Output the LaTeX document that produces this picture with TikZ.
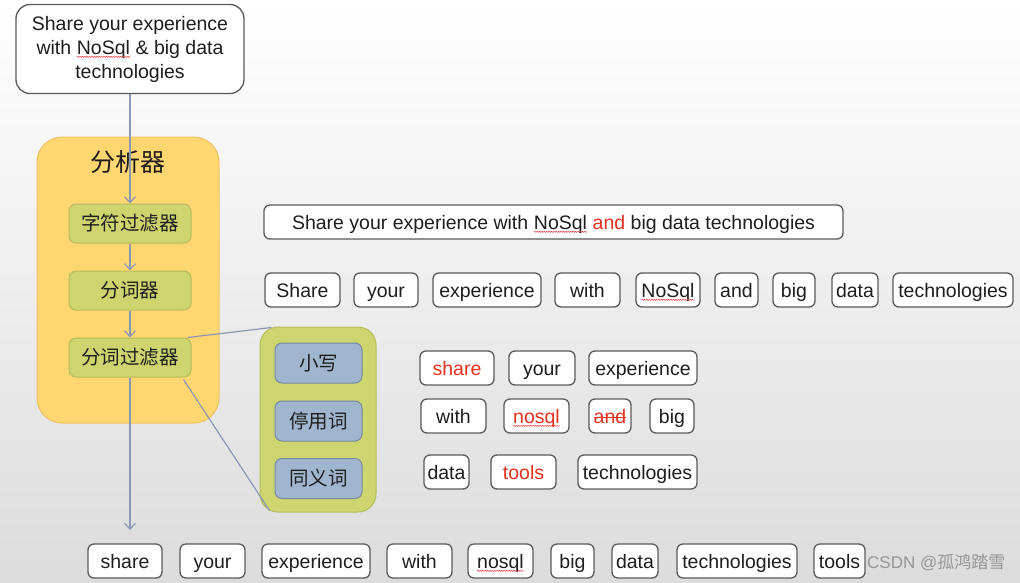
\documentclass[tikz,border=0pt]{standalone}
\usepackage{fontspec}
\setmainfont{Liberation Sans}
\newfontfamily\cjk{Noto Sans CJK SC}
\usetikzlibrary{arrows.meta,decorations.pathmorphing}
\definecolor{connc}{RGB}{138,152,182}
\definecolor{tokb}{RGB}{90,90,90}
\definecolor{txt}{RGB}{30,30,30}
\definecolor{redc}{RGB}{228,48,30}
\definecolor{spell}{RGB}{225,60,60}
\definecolor{orangef}{RGB}{255,214,112}
\definecolor{orangeb}{RGB}{236,196,98}
\definecolor{olivef}{RGB}{206,212,110}
\definecolor{oliveb}{RGB}{182,188,92}
\definecolor{bluef}{RGB}{160,182,206}
\definecolor{blueb}{RGB}{118,138,165}
\definecolor{bgbot}{RGB}{220,220,220}
\definecolor{wmc}{RGB}{150,150,150}
\newcommand\wavy[1]{\tikz[baseline=(wv.base)]{\node[inner sep=0pt,outer sep=0pt,minimum width=0pt,minimum height=0pt,draw=none,fill=none] (wv) {#1};\draw[draw=spell,line width=0.5pt,sharp corners,decorate,decoration={snake,amplitude=0.6pt,segment length=2.4pt}] ([yshift=-2.8pt]wv.base west) -- ([yshift=-2.8pt]wv.base east);}}
\newcommand\strk[1]{\tikz[baseline=(sv.base)]{\node[inner sep=0pt,outer sep=0pt,minimum width=0pt,minimum height=0pt,draw=none,fill=none] (sv) {#1};\draw[draw=redc,line width=1.2pt,sharp corners] ([yshift=5.3pt]sv.base west) -- ([yshift=5.3pt]sv.base east);}}
\begin{document}
\begin{tikzpicture}[x=1pt,y=-1pt,
  conn/.style={draw=connc,line width=1.2pt},
  arr/.style={conn,-{Straight Barb[length=6pt,width=11pt]}},
  tok/.style={draw=tokb,line width=1.3pt,fill=white,rounded corners=6pt,minimum height=34pt,inner sep=0pt,text=txt,text height=14pt,text depth=0pt,font=\fontsize{19.5}{23}\selectfont},
  redtok/.style={tok,text=redc},
  stagebox/.style={draw=oliveb,line width=1pt,fill=olivef,rounded corners=7pt,minimum width=122pt,minimum height=39pt,inner sep=0pt,text=txt,font=\cjk\fontsize{19.5}{23}\selectfont},
  filtbox/.style={draw=blueb,line width=1pt,fill=bluef,rounded corners=7pt,minimum width=87pt,minimum height=40pt,inner sep=0pt,text=txt,font=\cjk\fontsize{19.5}{23}\selectfont}
]
\shade[top color=white,bottom color=bgbot] (0,0) rectangle (1020,582);
\useasboundingbox (0,0) rectangle (1020,582);

% source sentence
\node[draw=tokb,line width=1.3pt,fill=white,text=txt,minimum width=228pt,minimum height=89pt,inner sep=0pt,rounded corners=14pt,align=center,font=\fontsize{19.5}{24}\selectfont] (src) at (130,49) {Share your experience\\with \wavy{NoSql} \& big data\\technologies};

% analyzer
\node[draw=orangeb,fill=orangef,line width=1pt,rounded corners=25pt,minimum width=182pt,minimum height=286pt,inner sep=0pt] (ana) at (128,280) {};
\node[inner sep=0pt,text=txt,font=\cjk\fontsize{25}{30}\selectfont] (anat) at (128,162) {分析器};
\node[stagebox] (s1) at (130,223.5) {字符过滤器};
\node[stagebox] (s2) at (130,290.5) {分词器};
\node[stagebox] (s3) at (130,357.5) {分词过滤器};

% token filters group
\node[draw=oliveb,fill=olivef,line width=1pt,rounded corners=18pt,minimum width=116pt,minimum height=185pt,inner sep=0pt] (grp) at (318,419.5) {};
\node[filtbox] (f1) at (318.5,363) {小写};
\node[filtbox] (f2) at (318.5,421) {停用词};
\node[filtbox] (f3) at (318.5,478.5) {同义词};

% connectors
\coordinate (out) at (130,530);
\draw[arr] (src.south) -- (s1.north);
\draw[arr] (s1.south) -- (s2.north);
\draw[arr] (s2.south) -- (s3.north);
\draw[arr] (s3.south) -- (out);
\draw[conn] ([xshift=-4pt]s3.north east) -- ([xshift=12pt,yshift=-1pt]grp.north west);
\draw[conn] ([xshift=-8pt,yshift=-2pt]s3.south east) -- ([xshift=10pt,yshift=2pt]grp.south west);

% sentence after char filter
\node[tok,minimum width=579pt] (sent) at (553.5,222) {Share your experience with \wavy{NoSql} \textcolor{redc}{and} big data technologies};

% tokenizer output
\node[tok,minimum width=75pt] (a1) at (302.5,290) {Share};
\node[tok,minimum width=64pt] (a2) at (386,290) {your};
\node[tok,minimum width=108pt] (a3) at (487,290) {experience};
\node[tok,minimum width=65pt] (a4) at (587.5,290) {with};
\node[tok,minimum width=64pt] (a5) at (668,290) {\wavy{NoSql}};
\node[tok,minimum width=43pt] (a6) at (736.5,290) {and};
\node[tok,minimum width=42pt] (a7) at (794,290) {big};
\node[tok,minimum width=46pt] (a8) at (855,290) {data};
\node[tok,minimum width=120pt] (a9) at (953,290) {technologies};

% token filter output
\node[redtok,minimum width=74pt] (b1) at (457,368) {share};
\node[tok,minimum width=66pt] (b2) at (542,368) {your};
\node[tok,minimum width=108pt] (b3) at (643,368) {experience};
\node[tok,minimum width=65pt] (b4) at (453.5,416) {with};
\node[redtok,minimum width=65pt] (b5) at (536.5,416) {\wavy{nosql}};
\node[redtok,minimum width=42pt] (b6) at (610,416) {\strk{and}};
\node[tok,minimum width=44pt] (b7) at (672,416) {big};
\node[tok,minimum width=45pt] (b8) at (446.5,472) {data};
\node[redtok,minimum width=65pt] (b9) at (523.5,472) {tools};
\node[tok,minimum width=119pt] (b10) at (637.5,472) {technologies};

% final tokens
\node[tok,minimum width=74pt] (c1) at (125,561) {share};
\node[tok,minimum width=65pt] (c2) at (212.5,561) {your};
\node[tok,minimum width=108pt] (c3) at (316,561) {experience};
\node[tok,minimum width=65pt] (c4) at (419.5,561) {with};
\node[tok,minimum width=65pt] (c5) at (500.5,561) {\wavy{nosql}};
\node[tok,minimum width=43pt] (c6) at (572.5,561) {big};
\node[tok,minimum width=46pt] (c7) at (635,561) {data};
\node[tok,minimum width=120pt] (c8) at (737,561) {technologies};
\node[tok,minimum width=51pt] (c9) at (839.5,561) {tools};

% watermark
\node[anchor=west,inner sep=0pt,text=wmc,font=\fontsize{17}{20}\selectfont] (wm) at (867,562) {CSDN @{\cjk 孤鸿踏雪}};
\end{tikzpicture}
\end{document}
